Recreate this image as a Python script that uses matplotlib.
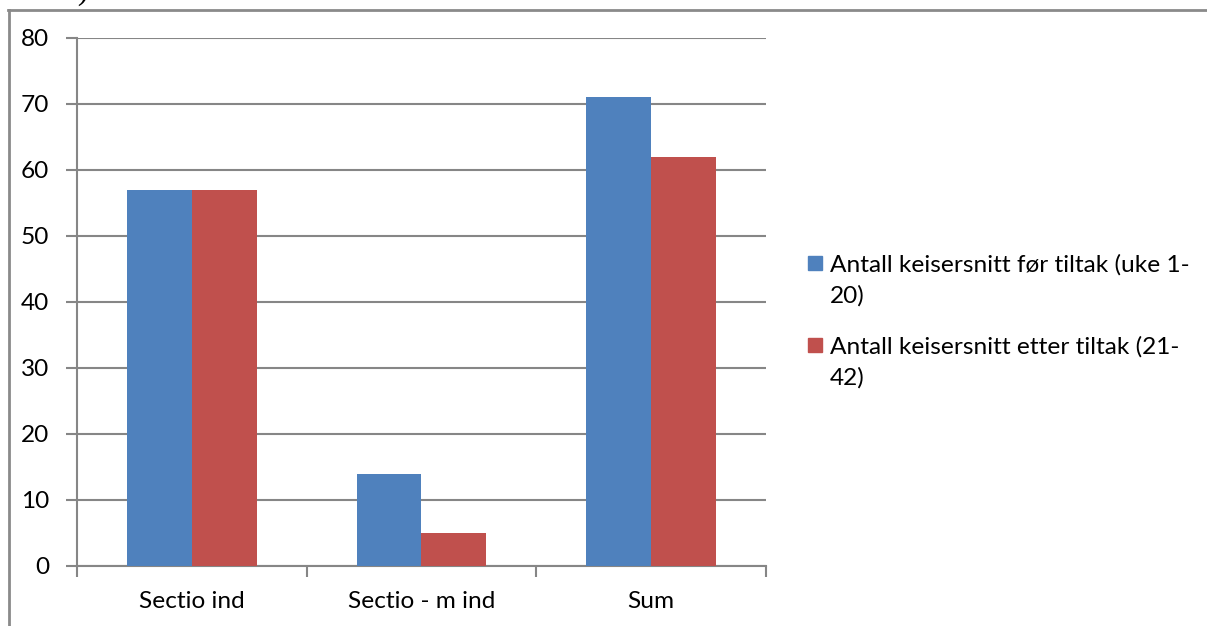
import matplotlib
matplotlib.use("Agg")
import matplotlib.pyplot as plt
from matplotlib.lines import Line2D
from matplotlib.patches import Rectangle
import numpy as np

categories = ["Sectio ind", "Sectio - m ind", "Sum"]
before = [57, 14, 71]
after = [57, 5, 62]
series_names = ["Antall keisersnitt før tiltak (uke 1-\n20)",
                "Antall keisersnitt etter tiltak (21-\n42)"]
y_ticks = [0, 10, 20, 30, 40, 50, 60, 70, 80]

BLUE = "#4F81BD"
RED = "#C0504D"
GRID = "#868686"
FS = 17.6

plt.rcParams["font.family"] = ["Lato", "DejaVu Sans"]

W, H = 1207, 626
fig = plt.figure(figsize=(W / 100, H / 100), dpi=100)
fig.patch.set_facecolor("white")

ax = fig.add_axes([77 / W, 1 - 566 / H, (766 - 77) / W, (566 - 38) / H])

x = np.arange(len(categories))
bw = 65 / 230
ax.bar(x - bw / 2, before, width=bw, color=BLUE, zorder=3)
ax.bar(x + bw / 2, after, width=bw, color=RED, zorder=3)

ax.set_xlim(-0.5, len(categories) - 0.5)
ax.set_ylim(0, 80)
ax.set_yticks(y_ticks)
ax.set_yticklabels([str(v) for v in y_ticks], fontsize=FS)
ax.yaxis.grid(True, color=GRID, linewidth=1.5, zorder=0)
ax.set_axisbelow(True)

ax.set_xticks(x)
ax.set_xticklabels(categories, fontsize=FS)
ax.set_xticks(np.arange(-0.5, len(categories)), minor=True)
ax.tick_params(axis="x", which="major", length=0, pad=18)
ax.tick_params(axis="x", which="minor", length=8, width=1.5, color=GRID, direction="out")
ax.tick_params(axis="y", length=8, width=1.5, color=GRID, direction="out", pad=12)

for side in ["top", "right"]:
    ax.spines[side].set_visible(False)
for side in ["left", "bottom"]:
    ax.spines[side].set_color(GRID)
    ax.spines[side].set_linewidth(1.5)

# legend: colour squares with wrapped two-line labels
legend_rows = [(BLUE, series_names[0], 263), (RED, series_names[1], 345)]
sq = 14
for color, label, y_first in legend_rows:
    fig.add_artist(Rectangle((808 / W, 1 - (y_first + sq / 2) / H), sq / W, sq / H,
                             transform=fig.transFigure, color=color))
    fig.text(830 / W, 1 - (y_first + 17.5) / H, label, fontsize=FS,
             ha="left", va="center", linespacing=1.55)

# outer frame lines
fig.add_artist(Line2D([8.5 / W, 8.5 / W], [0, 1 - 10 / H], transform=fig.transFigure,
                      color="#8a8a8a", linewidth=2))
fig.add_artist(Line2D([8 / W, 1], [1 - 10 / H, 1 - 10 / H], transform=fig.transFigure,
                      color="#8a8a8a", linewidth=2))

# text from the line above, mostly outside the canvas
fig.text(10 / W, 1 + 1 / H, "tiltak).", fontsize=24, family="Liberation Serif",
         va="baseline", ha="left")

fig.savefig("out.png", dpi=100)
